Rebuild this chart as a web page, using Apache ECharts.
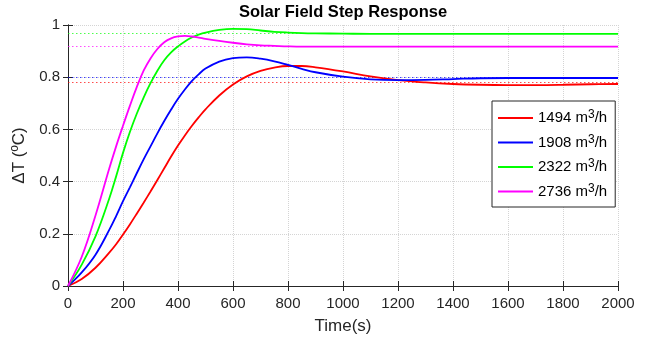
<!DOCTYPE html>
<html>
<head>
<meta charset="utf-8">
<script src="https://cdn.jsdelivr.net/npm/echarts@6/dist/echarts.min.js"></script>
<style>
  html, body { margin: 0; padding: 0; background: #fff; }
  #chart { width: 659px; height: 340px; }
</style>
</head>
<body>
<div id="chart"></div>
<script>
// flow rates (m3/h) and read-off step responses
var flowRates = ['1494', '1908', '2322', '2736'];
var lineColors = ['#ff0000', '#0000ff', '#00ff00', '#ff00ff'];
var timeS = [0, 50, 100, 150, 175, 200, 225, 250, 275, 300, 325, 350, 375, 400, 425, 450, 475, 500,
             550, 600, 650, 700, 750, 800, 850, 900, 1000, 1100, 1200, 1300, 1400, 1500, 1600, 1700, 1800, 1900, 2000];
var resp1494 = [0, 0.027, 0.07, 0.128, 0.16, 0.197, 0.236, 0.277, 0.319, 0.362, 0.406, 0.451, 0.496, 0.538, 0.577, 0.613, 0.646, 0.677,
                0.73, 0.772, 0.803, 0.824, 0.837, 0.843, 0.843, 0.838, 0.822, 0.803, 0.789, 0.78, 0.774, 0.771, 0.77, 0.77, 0.771, 0.773, 0.774];
var resp1908 = [0, 0.052, 0.12, 0.215, 0.268, 0.325, 0.378, 0.432, 0.485, 0.535, 0.585, 0.632, 0.676, 0.717, 0.753, 0.785, 0.811, 0.833,
                0.86, 0.873, 0.876, 0.871, 0.861, 0.847, 0.832, 0.819, 0.802, 0.792, 0.789, 0.79, 0.793, 0.796, 0.797, 0.797, 0.797, 0.797, 0.797];
var resp2322 = [0, 0.082, 0.19, 0.335, 0.42, 0.51, 0.59, 0.66, 0.722, 0.777, 0.825, 0.865, 0.895, 0.918, 0.937, 0.952, 0.963, 0.971,
                0.981, 0.985, 0.984, 0.979, 0.974, 0.971, 0.969, 0.968, 0.967, 0.966, 0.966, 0.966, 0.966, 0.966, 0.966, 0.966, 0.966, 0.966, 0.966];
var resp2736 = [0, 0.112, 0.27, 0.45, 0.535, 0.614, 0.69, 0.762, 0.825, 0.872, 0.908, 0.934, 0.949, 0.956, 0.958, 0.956, 0.952, 0.947,
                0.939, 0.932, 0.926, 0.922, 0.92, 0.918, 0.917, 0.917, 0.917, 0.917, 0.917, 0.917, 0.917, 0.917, 0.917, 0.917, 0.917, 0.917, 0.917];
var steadyState = [0.775, 0.797, 0.966, 0.917];
var allResp = [resp1494, resp1908, resp2322, resp2736];

var myChart = echarts.init(document.getElementById('chart'), null, {renderer: 'canvas'});

var axisColor = '#262626';
var font = 'Liberation Sans, Arial, sans-serif';

var series = flowRates.map(function (q, i) {
    return {
        name: q,
        type: 'line',
        smooth: 0.4,
        showSymbol: false,
        data: timeS.map(function (t, k) { return [t, allResp[i][k]]; }),
        lineStyle: {color: lineColors[i], width: 1.8},
        itemStyle: {color: lineColors[i]},
        z: 3,
        markLine: {
            silent: true,
            symbol: 'none',
            label: {show: false},
            lineStyle: {color: lineColors[i], type: [1.5, 2.5], width: 1.2, opacity: 0.7},
            data: [{yAxis: steadyState[i]}],
            z: 2
        }
    };
});

var option = {
    animation: false,
    backgroundColor: '#fff',
    title: {
        text: 'Solar Field Step Response',
        left: 343,
        textAlign: 'center',
        top: 4,
        padding: 0,
        textStyle: {fontFamily: font, fontSize: 16.5, fontWeight: 'bold', color: '#000'}
    },
    legend: {
        orient: 'vertical',
        left: 492,
        top: 101,
        icon: 'rect',
        itemWidth: 35,
        itemHeight: 2,
        itemGap: 8,
        padding: [8, 8, 8, 6],
        borderColor: axisColor,
        borderWidth: 1,
        backgroundColor: '#fff',
        data: flowRates,
        formatter: function (name) { return '{a|' + name + ' m}{s|3}{a|/h}'; },
        textStyle: {
            fontFamily: font, fontSize: 15, color: '#000',
            rich: {
                a: {fontFamily: font, fontSize: 15, color: '#000', lineHeight: 17},
                s: {fontFamily: font, fontSize: 12, color: '#000', verticalAlign: 'top', padding: [0, 0, 6, 0]}
            }
        }
    },
    grid: {left: 68, right: 41, top: 25, bottom: 53},
    xAxis: [{
        type: 'value', min: 0, max: 2000, interval: 200,
        name: 'Time(s)', nameLocation: 'middle', nameGap: 32,
        nameTextStyle: {fontFamily: font, fontSize: 17, color: axisColor},
        axisLine: {show: true, lineStyle: {color: axisColor, width: 1}},
        axisTick: {show: true, inside: true, length: 5, lineStyle: {color: axisColor}},
        axisLabel: {fontFamily: font, fontSize: 15, color: axisColor, margin: 10,
                    formatter: function (v) { return String(v); }},
        splitLine: {show: true, lineStyle: {color: '#d4d4d4', type: 'dotted'}}
    }, {
        type: 'value', min: 0, max: 2000, interval: 200, position: 'top',
        axisLine: {show: true, lineStyle: {color: axisColor, width: 1}},
        axisTick: {show: true, inside: true, length: 5, lineStyle: {color: axisColor}},
        axisLabel: {show: false},
        splitLine: {show: false}
    }],
    yAxis: [{
        type: 'value', min: 0, max: 1, interval: 0.2,
        name: 'ΔT (ºC)', nameLocation: 'middle', nameGap: 27, nameRotate: 90,
        nameTextStyle: {fontFamily: font, fontSize: 17, color: axisColor},
        axisLine: {show: true, lineStyle: {color: axisColor, width: 1}},
        axisTick: {show: true, inside: true, length: 5, lineStyle: {color: axisColor}},
        axisLabel: {fontFamily: font, fontSize: 15, color: axisColor, margin: 8},
        splitLine: {show: true, lineStyle: {color: '#d4d4d4', type: 'dotted'}}
    }, {
        type: 'value', min: 0, max: 1, interval: 0.2, position: 'right',
        axisLine: {show: true, lineStyle: {color: axisColor, width: 1}},
        axisTick: {show: true, inside: true, length: 5, lineStyle: {color: axisColor}},
        axisLabel: {show: false},
        splitLine: {show: false}
    }],
    series: series
};

myChart.setOption(option);
</script>
</body>
</html>
